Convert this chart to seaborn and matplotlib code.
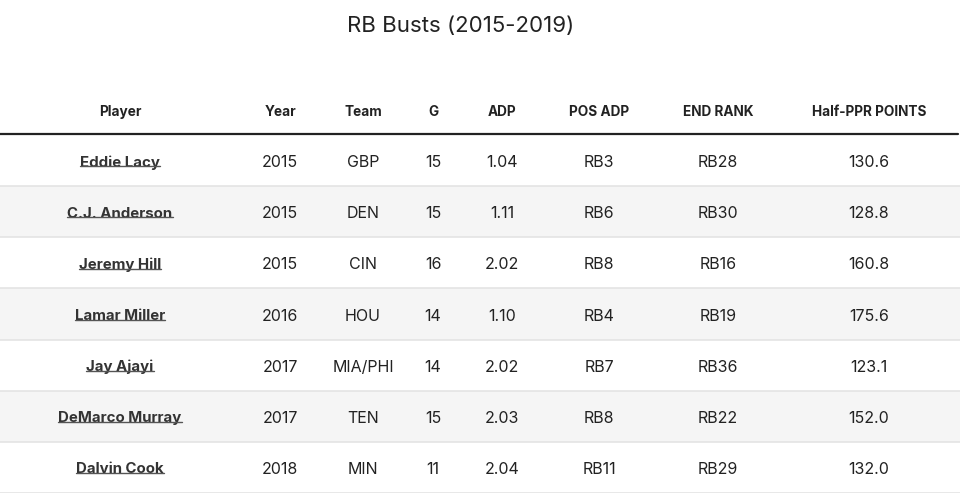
import matplotlib
matplotlib.use("Agg")
import matplotlib.pyplot as plt
from matplotlib.lines import Line2D
import seaborn as sns
import numpy as np
import pandas as pd

# table data
title = "RB Busts (2015-2019)"
columns = ["Player", "Year", "Team", "G", "ADP", "POS ADP", "END RANK", "Half-PPR POINTS"]
players = ["Eddie Lacy", "C.J. Anderson", "Jeremy Hill", "Lamar Miller",
           "Jay Ajayi", "DeMarco Murray", "Dalvin Cook"]
years = [2015, 2015, 2015, 2016, 2017, 2017, 2018]
teams = ["GBP", "DEN", "CIN", "HOU", "MIA/PHI", "TEN", "MIN"]
games = [15, 15, 16, 14, 14, 15, 11]
adp = [1.04, 1.11, 2.02, 1.10, 2.02, 2.03, 2.04]
pos_adp = ["RB3", "RB6", "RB8", "RB4", "RB7", "RB8", "RB11"]
end_rank = ["RB28", "RB30", "RB16", "RB19", "RB36", "RB22", "RB29"]
points = [130.6, 128.8, 160.8, 175.6, 123.1, 152.0, 132.0]

df = pd.DataFrame({
    "Player": players,
    "Year": [str(y) for y in years],
    "Team": teams,
    "G": [str(g) for g in games],
    "ADP": [f"{a:.2f}" for a in adp],
    "POS ADP": pos_adp,
    "END RANK": end_rank,
    "Half-PPR POINTS": [f"{p:.1f}" for p in points],
})

sns.set_theme(style="white")
plt.rcParams["font.family"] = ["Inter", "DejaVu Sans"]

W, H = 960, 495
fig = plt.figure(figsize=(9.6, 4.95), dpi=100)

col_x = [120, 280, 363, 433, 502, 599, 718, 869]  # column centres in px
body_top, body_bot = 135, 493

# striped body drawn as a one-column heatmap
stripes = pd.DataFrame({"bg": [i % 2 for i in range(len(df))]})
ax = fig.add_axes([0, (H - body_bot) / H, 1, (body_bot - body_top) / H])
sns.heatmap(stripes, ax=ax, cmap=["#ffffff", "#f5f5f5"], cbar=False,
            xticklabels=False, yticklabels=False, linewidths=0)
ax.set_xlim(0, 1)
for i in range(1, len(df) + 1):
    ax.axhline(i, color="#e4e4e4", lw=1.2)

name_texts = []
for i, row in df.iterrows():
    for j, col in enumerate(columns):
        if j == 0:
            t = ax.text(col_x[j] / W, i + 0.54, row[col], ha="center", va="center",
                        fontsize=10.8, fontweight="bold", color="#333333")
            name_texts.append(t)
        else:
            ax.text(col_x[j] / W, i + 0.54, row[col], ha="center", va="center",
                    fontsize=11.5, color="#222222")

# header
for j, col in enumerate(columns):
    fig.text(col_x[j] / W, 1 - 112 / H, col, ha="center", va="center",
             fontsize=9.8, fontweight="bold", color="#222222")
fig.add_artist(Line2D([0, 958 / W], [1 - 134 / H, 1 - 134 / H], color="#222222", lw=1.6))

fig.text(461 / W, 1 - 26 / H, title, ha="center", va="center",
         fontsize=16, color="#222222")

# underline the player names
fig.canvas.draw()
r = fig.canvas.get_renderer()
for t in name_texts:
    bb = t.get_window_extent(r)
    y = (bb.y0 + 3.5) / H
    fig.add_artist(Line2D([bb.x0 / W, bb.x1 / W], [y, y], color="#555555", lw=1.0))

fig.savefig("out.png", dpi=100)
